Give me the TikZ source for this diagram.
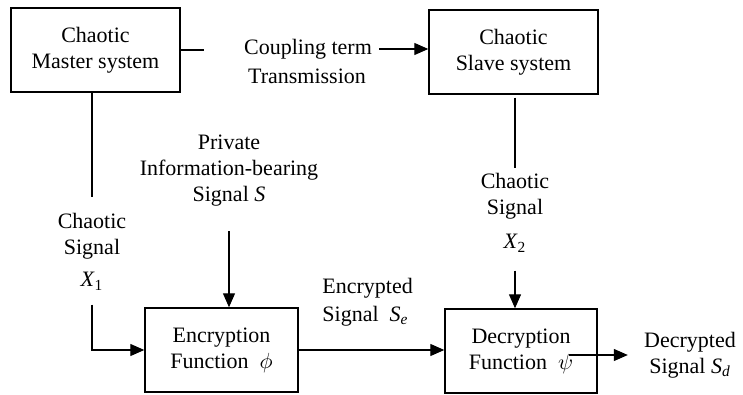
\documentclass[tikz,border=0pt]{standalone}
\usepackage{fontspec}
\setmainfont{Liberation Serif}
\usetikzlibrary{arrows.meta}

\begin{document}
\begin{tikzpicture}[x=0.5pt,y=-0.5pt,font=\fontsize{11}{13}\selectfont]
	\useasboundingbox (0,0) rectangle (743,395);

	% the four blocks
	\begin{scope}[every node/.style={draw,line width=0.7pt,align=center,minimum width=84.5pt,minimum height=42pt}]
	    \node (M) at (95.5,50) {Chaotic\\Master system};
	    \node (S) at (513.5,52) {Chaotic\\Slave system};
	    \node[minimum width=76.5pt] (E) at (221.5,350) {Encryption\\Function\ \ $\phi$};
	    \node[minimum width=76pt] (D) at (521,351) {Decryption\\Function\ \ $\psi$};
	\end{scope}

	% signal names
	\begin{scope}[every node/.style={align=center,inner sep=0pt}]
	    \node (C1) at (308,49) {Coupling term};
	    \node (C2) at (307,76) {Transmission};
	    \node (P) at (229,171) {Private\\Information-bearing\\Signal \textit{S}};
	    \node (X1) at (92,252) {Chaotic\\Signal\\[3pt]\textit{X}\textsubscript{1}};
	    \node (X2) at (515,213) {Chaotic\\Signal\\[4pt]\textit{X}\textsubscript{2}};
	    \node[align=left,anchor=west] (Se) at (322,302) {Encrypted\\[1pt]Signal\ \ \textit{S}\textsubscript{\textit{e}}};
	    \node (Sd) at (690,355) {Decrypted\\Signal \textit{S}\textsubscript{\textit{d}}};
	\end{scope}

	\begin{scope}[>={Triangle[length=7pt,width=6pt]},
	              every edge/.style={draw,line width=0.6pt}]
	    \path (M.east) edge[shorten >=20pt] (M.east -| C1.west);
	    \path [->] (C1.east) edge[shorten <=3.5pt] (C1.east -| S.west);
	    \path (M.south -| X1) edge[shorten >=8pt] (X1.north);
	    \path [->] (X1.south) edge[shorten <=7pt,to path={|- (\tikztotarget)}] (E.west);
	    \path [->] (P.south) edge[shorten <=12pt] (P.south |- E.north);
	    \path (S.south -| X2) edge[shorten <=1.5pt,shorten >=2.5pt] (X2.north);
	    \path [->] (X2.south) edge[shorten <=9pt] (X2.south |- D.north);
	    \path [->] (E.east) edge (E.east -| D.west);
	    \path [->] ([xshift=-14.5pt,yshift=-2pt]D.east) edge[shorten >=8pt] (Sd.west);
	\end{scope}
\end{tikzpicture}
\end{document}
